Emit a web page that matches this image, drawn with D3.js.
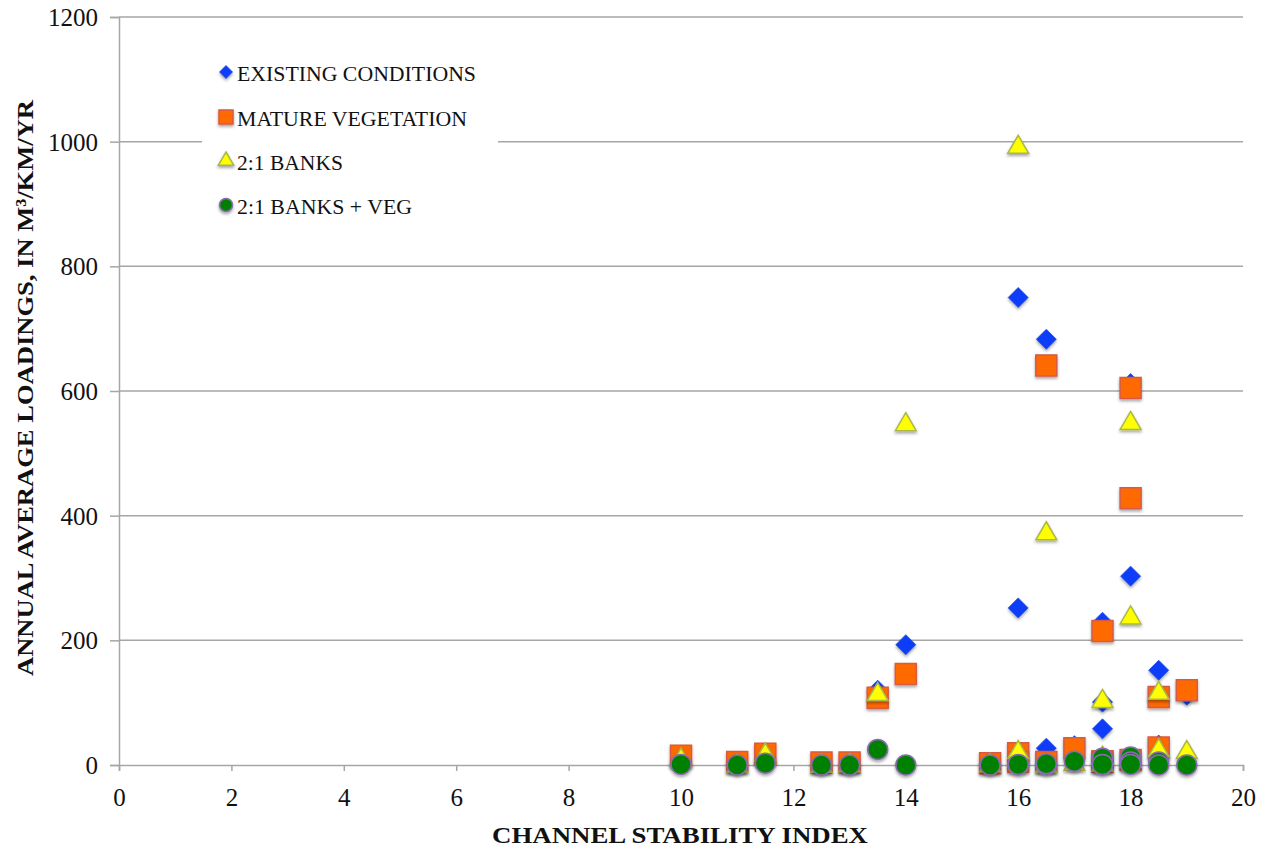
<!DOCTYPE html>
<html>
<head>
<meta charset="utf-8">
<script src="https://cdn.jsdelivr.net/npm/d3@7/dist/d3.min.js"></script>
<style>
  html, body { margin: 0; padding: 0; background: #fff; }
  svg { display: block; }
  text { font-family: "Liberation Serif", "Times New Roman", serif; fill: #111; }
</style>
</head>
<body>
<svg id="chart" width="1266" height="850"></svg>
<script>
// Channel stability index of each surveyed reach
const csi = [10, 11, 11.5, 12.5, 13, 13.5, 14, 15.5, 16, 16, 16.5, 16.5, 17, 17.5, 17.5, 17.5, 18, 18, 18, 18.5, 18.5, 19];

// Annual average loadings (m3/km/yr) for each scenario
const existingConditions = [8, 2, 10, 2, 2, 120, 193, 3, 750, 252, 683, 27, 31, 229, 101, 58, 612, 303, 8, 152, 32, 112];
const matureVegetation   = [15, 5, 18, 4, 4, 108, 146, 3, 19, 5, 641, 5, 27, 215, 5, 6, 605, 428, 8, 109, 28, 120];
const banks21            = [12, 2, 20, 2, 3, 117, 550, 3, 995, 24, 375, 2, 5, 106, 15, 4, 552, 240, 10, 119, 27, 24];
const banks21Veg         = [1, 0, 3, 0, 0, 25, 0, 0, 0, 1, 0, 2, 6, 11, 0, 1, 13, 5, 1, 5, 0, 0];

const seriesNames = ["EXISTING CONDITIONS", "MATURE VEGETATION", "2:1 BANKS", "2:1 BANKS + VEG"];
const xTicks = [0, 2, 4, 6, 8, 10, 12, 14, 16, 18, 20];
const yTicks = [0, 200, 400, 600, 800, 1000, 1200];

const svg = d3.select("#chart");
const defs = svg.append("defs");
const shadow = defs.append("filter").attr("id", "shade")
  .attr("x", "-50%").attr("y", "-50%").attr("width", "200%").attr("height", "200%");
shadow.append("feDropShadow").attr("dx", 0).attr("dy", 2).attr("stdDeviation", 1.5)
  .attr("flood-color", "#000").attr("flood-opacity", 0.35);

const x = d3.scaleLinear().domain([0, 20]).range([119, 1243]);
const y = d3.scaleLinear().domain([0, 1200]).range([765, 17]);

// horizontal gridlines
svg.append("g").selectAll("line").data(yTicks.filter(d => d > 0)).join("line")
  .attr("x1", x(0)).attr("x2", x(20))
  .attr("y1", d => y(d)).attr("y2", d => y(d))
  .attr("stroke", "#a6a6a6").attr("stroke-width", 1.5);

// y axis
const yAxis = svg.append("g").attr("transform", `translate(${x(0)},0)`)
  .call(d3.axisLeft(y).tickValues(yTicks).tickSize(9).tickPadding(12).tickFormat(d3.format("d")));
yAxis.select(".domain").attr("stroke", "#a6a6a6").attr("stroke-width", 1.5);
yAxis.selectAll(".tick line").attr("stroke", "#a6a6a6").attr("stroke-width", 1.5);
yAxis.selectAll(".tick text").attr("font-family", "Liberation Serif").attr("font-size", 25)
  .attr("fill", "#111").attr("dy", "0.34em");

// x axis
const xAxis = svg.append("g").attr("transform", `translate(0,${y(0)})`)
  .call(d3.axisBottom(x).tickValues(xTicks).tickSize(6).tickPadding(17).tickFormat(d3.format("d")));
xAxis.select(".domain").attr("stroke", "#a6a6a6").attr("stroke-width", 1.5);
xAxis.selectAll(".tick line").attr("stroke", "#a6a6a6").attr("stroke-width", 1.5);
xAxis.selectAll(".tick text").attr("font-family", "Liberation Serif").attr("font-size", 25)
  .attr("fill", "#111");

// axis titles
svg.append("text").attr("x", 680).attr("y", 843).attr("text-anchor", "middle")
  .attr("font-size", 23).attr("font-weight", "bold")
  .attr("textLength", 376).attr("lengthAdjust", "spacingAndGlyphs")
  .text("CHANNEL STABILITY INDEX");

svg.append("text").attr("transform", "translate(33,388) rotate(-90)").attr("text-anchor", "middle")
  .attr("font-size", 24).attr("font-weight", "bold")
  .attr("textLength", 576).attr("lengthAdjust", "spacingAndGlyphs")
  .text("ANNUAL AVERAGE LOADINGS, IN M³/KM/YR");

// marker shapes
const shapes = {
  diamond: h => `M0,${-h}L${h},0L0,${h}L${-h},0Z`,
  square: h => `M${-h},${-h}H${h}V${h}H${-h}Z`,
  triangle: h => `M0,${-h}L${h * 1.1},${h * 0.9}L${-h * 1.1},${h * 0.9}Z`,
  circle: h => `M${h},0A${h},${h} 0 1 1 ${-h},0A${h},${h} 0 1 1 ${h},0Z`
};
const styles = [
  { shape: "diamond",  size: 10,  fill: "#0a3cf8", stroke: "#2a4fe0", sw: 0.8, lsize: 6.5 },
  { shape: "square",   size: 10.5, fill: "#ff6a00", stroke: "#d65a45", sw: 1.5, lsize: 7 },
  { shape: "triangle", size: 9.5, fill: "#ffff00", stroke: "#a9b846", sw: 1.5, lsize: 7 },
  { shape: "circle",   size: 10,  fill: "#008000", stroke: "#8a6cb0", sw: 1.5, lsize: 6.5 }
];
const seriesValues = [existingConditions, matureVegetation, banks21, banks21Veg];

seriesValues.forEach((vals, i) => {
  const st = styles[i];
  const pts = csi.map((c, j) => ({ c, v: vals[j] }));
  svg.append("g").attr("filter", "url(#shade)")
    .selectAll("path").data(pts).join("path")
    .attr("transform", d => `translate(${x(d.c)},${y(d.v)})`)
    .attr("d", shapes[st.shape](st.size))
    .attr("fill", st.fill).attr("stroke", st.stroke).attr("stroke-width", st.sw);
});

// legend
const legend = svg.append("g");
legend.append("rect").attr("x", 202).attr("y", 50).attr("width", 296).attr("height", 180).attr("fill", "#fff");
const legendY = [74, 119, 163, 207];
const legendLen = [239, 230, 106, 175];
seriesNames.forEach((name, i) => {
  const st = styles[i];
  const row = legend.append("g").attr("transform", `translate(0,${legendY[i]})`);
  row.append("path").attr("transform", `translate(226,${i === 2 ? -4 : -2})`)
    .attr("d", shapes[st.shape](st.lsize))
    .attr("fill", st.fill).attr("stroke", st.stroke).attr("stroke-width", st.sw)
    .attr("filter", "url(#shade)");
  row.append("text").attr("x", 237).attr("y", 7).attr("font-size", 21)
    .attr("textLength", legendLen[i]).attr("lengthAdjust", "spacingAndGlyphs")
    .attr("fill", "#222").text(name);
});
</script>
</body>
</html>
